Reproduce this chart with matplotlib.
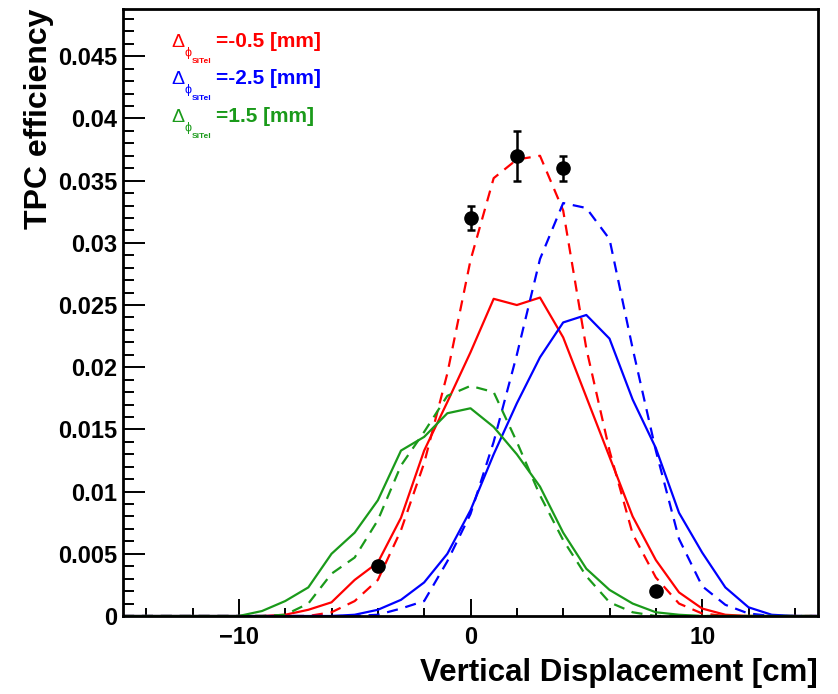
import numpy as np
import matplotlib
matplotlib.use("Agg")
import matplotlib.pyplot as plt
from matplotlib.ticker import MultipleLocator

plt.rcParams['font.family'] = ['Liberation Sans', 'DejaVu Sans']

# bin positions [cm]
x = np.arange(-15, 16)

# simulated efficiency curves, one value per bin (-15 .. 15)
red_solid = [0, 0, 0, 0, 0, 0, 0, 0.0001, 0.0005, 0.0011, 0.0029, 0.0043, 0.0079, 0.0133, 0.0172, 0.0212,
             0.0255, 0.0250, 0.0256, 0.0224, 0.0176, 0.0128, 0.0080, 0.0045, 0.0019, 0.0006, 0.0001, 0, 0, 0, 0]
red_dashed = [0, 0, 0, 0, 0, 0, 0, 0, 0, 0.0003, 0.0012, 0.0029, 0.0069, 0.0123, 0.0195, 0.0286,
              0.0352, 0.0367, 0.0370, 0.0326, 0.0215, 0.0133, 0.0066, 0.0031, 0.0010, 0.0002, 0, 0, 0, 0, 0]
blue_solid = [0, 0, 0, 0, 0, 0, 0, 0, 0, 0, 0.0001, 0.0005, 0.0013, 0.0027, 0.0050, 0.0085,
              0.0130, 0.0171, 0.0208, 0.0236, 0.0242, 0.0223, 0.0174, 0.0135, 0.0083, 0.0051, 0.0023, 0.0007, 0.0001, 0, 0]
blue_dashed = [0, 0, 0, 0, 0, 0, 0, 0, 0, 0, 0, 0.0001, 0.0006, 0.0012, 0.0044, 0.0082,
               0.0140, 0.0210, 0.0287, 0.0332, 0.0328, 0.0303, 0.0215, 0.0133, 0.0062, 0.0024, 0.0009, 0.0002, 0, 0, 0]
green_solid = [0, 0, 0, 0, 0, 0, 0.0004, 0.0012, 0.0023, 0.0050, 0.0067, 0.0093, 0.0133, 0.0144, 0.0163, 0.0167,
               0.0152, 0.0130, 0.0104, 0.0067, 0.0038, 0.0021, 0.0010, 0.0003, 0.0001, 0, 0, 0, 0, 0, 0]
green_dashed = [0, 0, 0, 0, 0, 0, 0, 0.0001, 0.0010, 0.0034, 0.0047, 0.0077, 0.0121, 0.0148, 0.0177, 0.0185,
                0.0180, 0.0140, 0.0097, 0.0061, 0.0032, 0.0011, 0.0003, 0, 0, 0, 0, 0, 0, 0, 0]

# measured points
data_x = [-4, 0, 2, 4, 8]
data_y = [0.004, 0.032, 0.037, 0.036, 0.002]
data_err = [0.0002, 0.001, 0.002, 0.001, 0.0002]

labels = ['=-0.5 [mm]', '=-2.5 [mm]', '=1.5 [mm]']
RED, BLUE, GREEN = '#ff0000', '#0000ff', '#1a9a1a'

W, H = 838, 694
fig = plt.figure(figsize=(W / 100, H / 100), dpi=100)
ax = fig.add_axes([123 / W, 78 / H, 695 / W, 607 / H])

lw = 1.6
dash = (5, 3.5)
ax.plot(x, red_solid, color=RED, lw=lw)
ax.plot(x, red_dashed, color=RED, lw=lw, ls=(0, dash))
ax.plot(x, blue_solid, color=BLUE, lw=lw)
ax.plot(x, blue_dashed, color=BLUE, lw=lw, ls=(0, dash))
ax.plot(x, green_solid, color=GREEN, lw=lw)
ax.plot(x, green_dashed, color=GREEN, lw=lw, ls=(0, dash))

ax.errorbar(data_x, data_y, yerr=data_err, fmt='o', color='black', ms=9.5,
            elinewidth=1.8, capsize=3, capthick=1.8, zorder=5)

ax.set_xlim(-15, 15)
ax.set_ylim(0, 0.0488)
ax.xaxis.set_major_locator(MultipleLocator(10))
ax.xaxis.set_minor_locator(MultipleLocator(2))
ax.yaxis.set_major_locator(MultipleLocator(0.005))
ax.yaxis.set_minor_locator(MultipleLocator(0.001))
ax.yaxis.set_major_formatter(plt.FuncFormatter(lambda v, p: '0' if abs(v) < 1e-9 else ('%.3f' % v).rstrip('0')))

ax.tick_params(which='both', direction='in', width=1.4, labelsize=17)
ax.tick_params(axis='x', which='major', length=12, pad=7)
ax.tick_params(axis='x', which='minor', length=6)
ax.tick_params(axis='y', which='major', length=16, pad=4)
ax.tick_params(axis='y', which='minor', length=8)
for lab in ax.get_xticklabels() + ax.get_yticklabels():
    lab.set_fontweight('bold')
for s in ax.spines.values():
    s.set_linewidth(2)

ax.set_xlabel('Vertical Displacement [cm]', fontsize=22.5, fontweight='bold', loc='right', labelpad=7)
ax.set_ylabel('TPC efficiency', fontsize=23, fontweight='bold', loc='top', labelpad=3)

# legend-like labels: Delta with phi subscript and SiTel sub-subscript
x0 = 171
for i, (lab, c) in enumerate(zip(labels, [RED, BLUE, GREEN])):
    base = 47 + i * 37.5
    fig.text(x0 / W, 1 - base / H, '\u0394', color=c, fontsize=14, va='baseline')
    fig.text((x0 + 13) / W, 1 - (base + 9) / H, '\u03d5', color=c, fontsize=9, va='baseline')
    fig.text((x0 + 21) / W, 1 - (base + 16) / H, 'SiTel', color=c, fontsize=6,
             fontweight='bold', va='baseline')
    fig.text((x0 + 45) / W, 1 - base / H, lab, color=c, fontsize=15, fontweight='bold', va='baseline')

fig.savefig('out.png', dpi=100)
